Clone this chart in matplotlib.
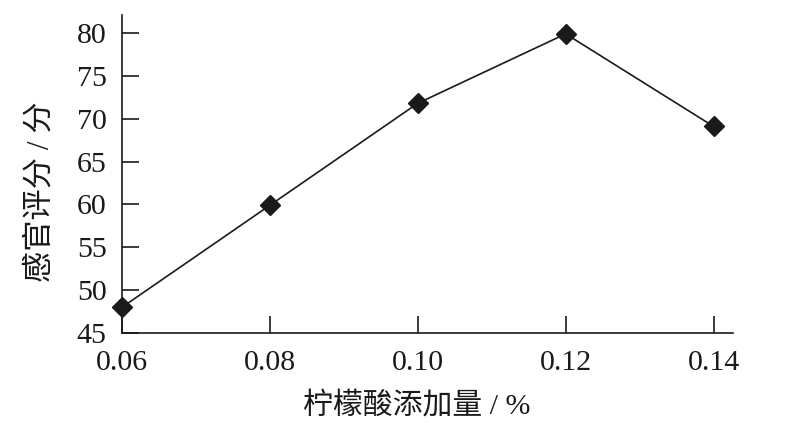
import matplotlib
matplotlib.use("Agg")
from matplotlib import pyplot as plt

# data
acid = [0.06, 0.08, 0.10, 0.12, 0.14]
score = [48.0, 59.9, 71.8, 79.9, 69.1]
xticks = [0.06, 0.08, 0.10, 0.12, 0.14]
xticklabels = ["0.06", "0.08", "0.10", "0.12", "0.14"]
yticks = [45, 50, 55, 60, 65, 70, 75, 80]

plt.rcParams['font.family'] = ['Liberation Serif', 'Noto Sans CJK SC']

fig = plt.figure(figsize=(8, 4.23), dpi=100)
ax = fig.add_axes([0.1525, 0.2128, 0.916 - 0.1525, 0.9645 - 0.2128])

ax.plot(acid, score, color="#1a1a1a", lw=1.2, marker="D", markersize=10.5,
        markerfacecolor="#1a1a1a", markeredgecolor="#1a1a1a", clip_on=False, zorder=3)

ax.set_xlim(0.06, 0.1426)
ax.set_ylim(45, 82.1)
ax.set_xticks(xticks)
ax.set_xticklabels(xticklabels)
ax.set_yticks(yticks)

for s in ["top", "right"]:
    ax.spines[s].set_visible(False)
for s in ["left", "bottom"]:
    ax.spines[s].set_linewidth(1.2)
    ax.spines[s].set_color("#1a1a1a")

ax.tick_params(axis="both", direction="in", length=12, width=1.2, color="#1a1a1a",
               labelsize=21.5, labelcolor="#1a1a1a")
ax.tick_params(axis="x", pad=12)
ax.tick_params(axis="y", pad=11)

ax.set_xlabel("柠檬酸添加量 / %", fontsize=21.5, color="#1a1a1a")
ax.set_ylabel("感官评分 / 分", fontsize=22.5, color="#1a1a1a")
ax.xaxis.set_label_coords(0.483, -0.185)
ax.yaxis.set_label_coords(-0.108, 0.445)

fig.savefig("out.png", dpi=100)
